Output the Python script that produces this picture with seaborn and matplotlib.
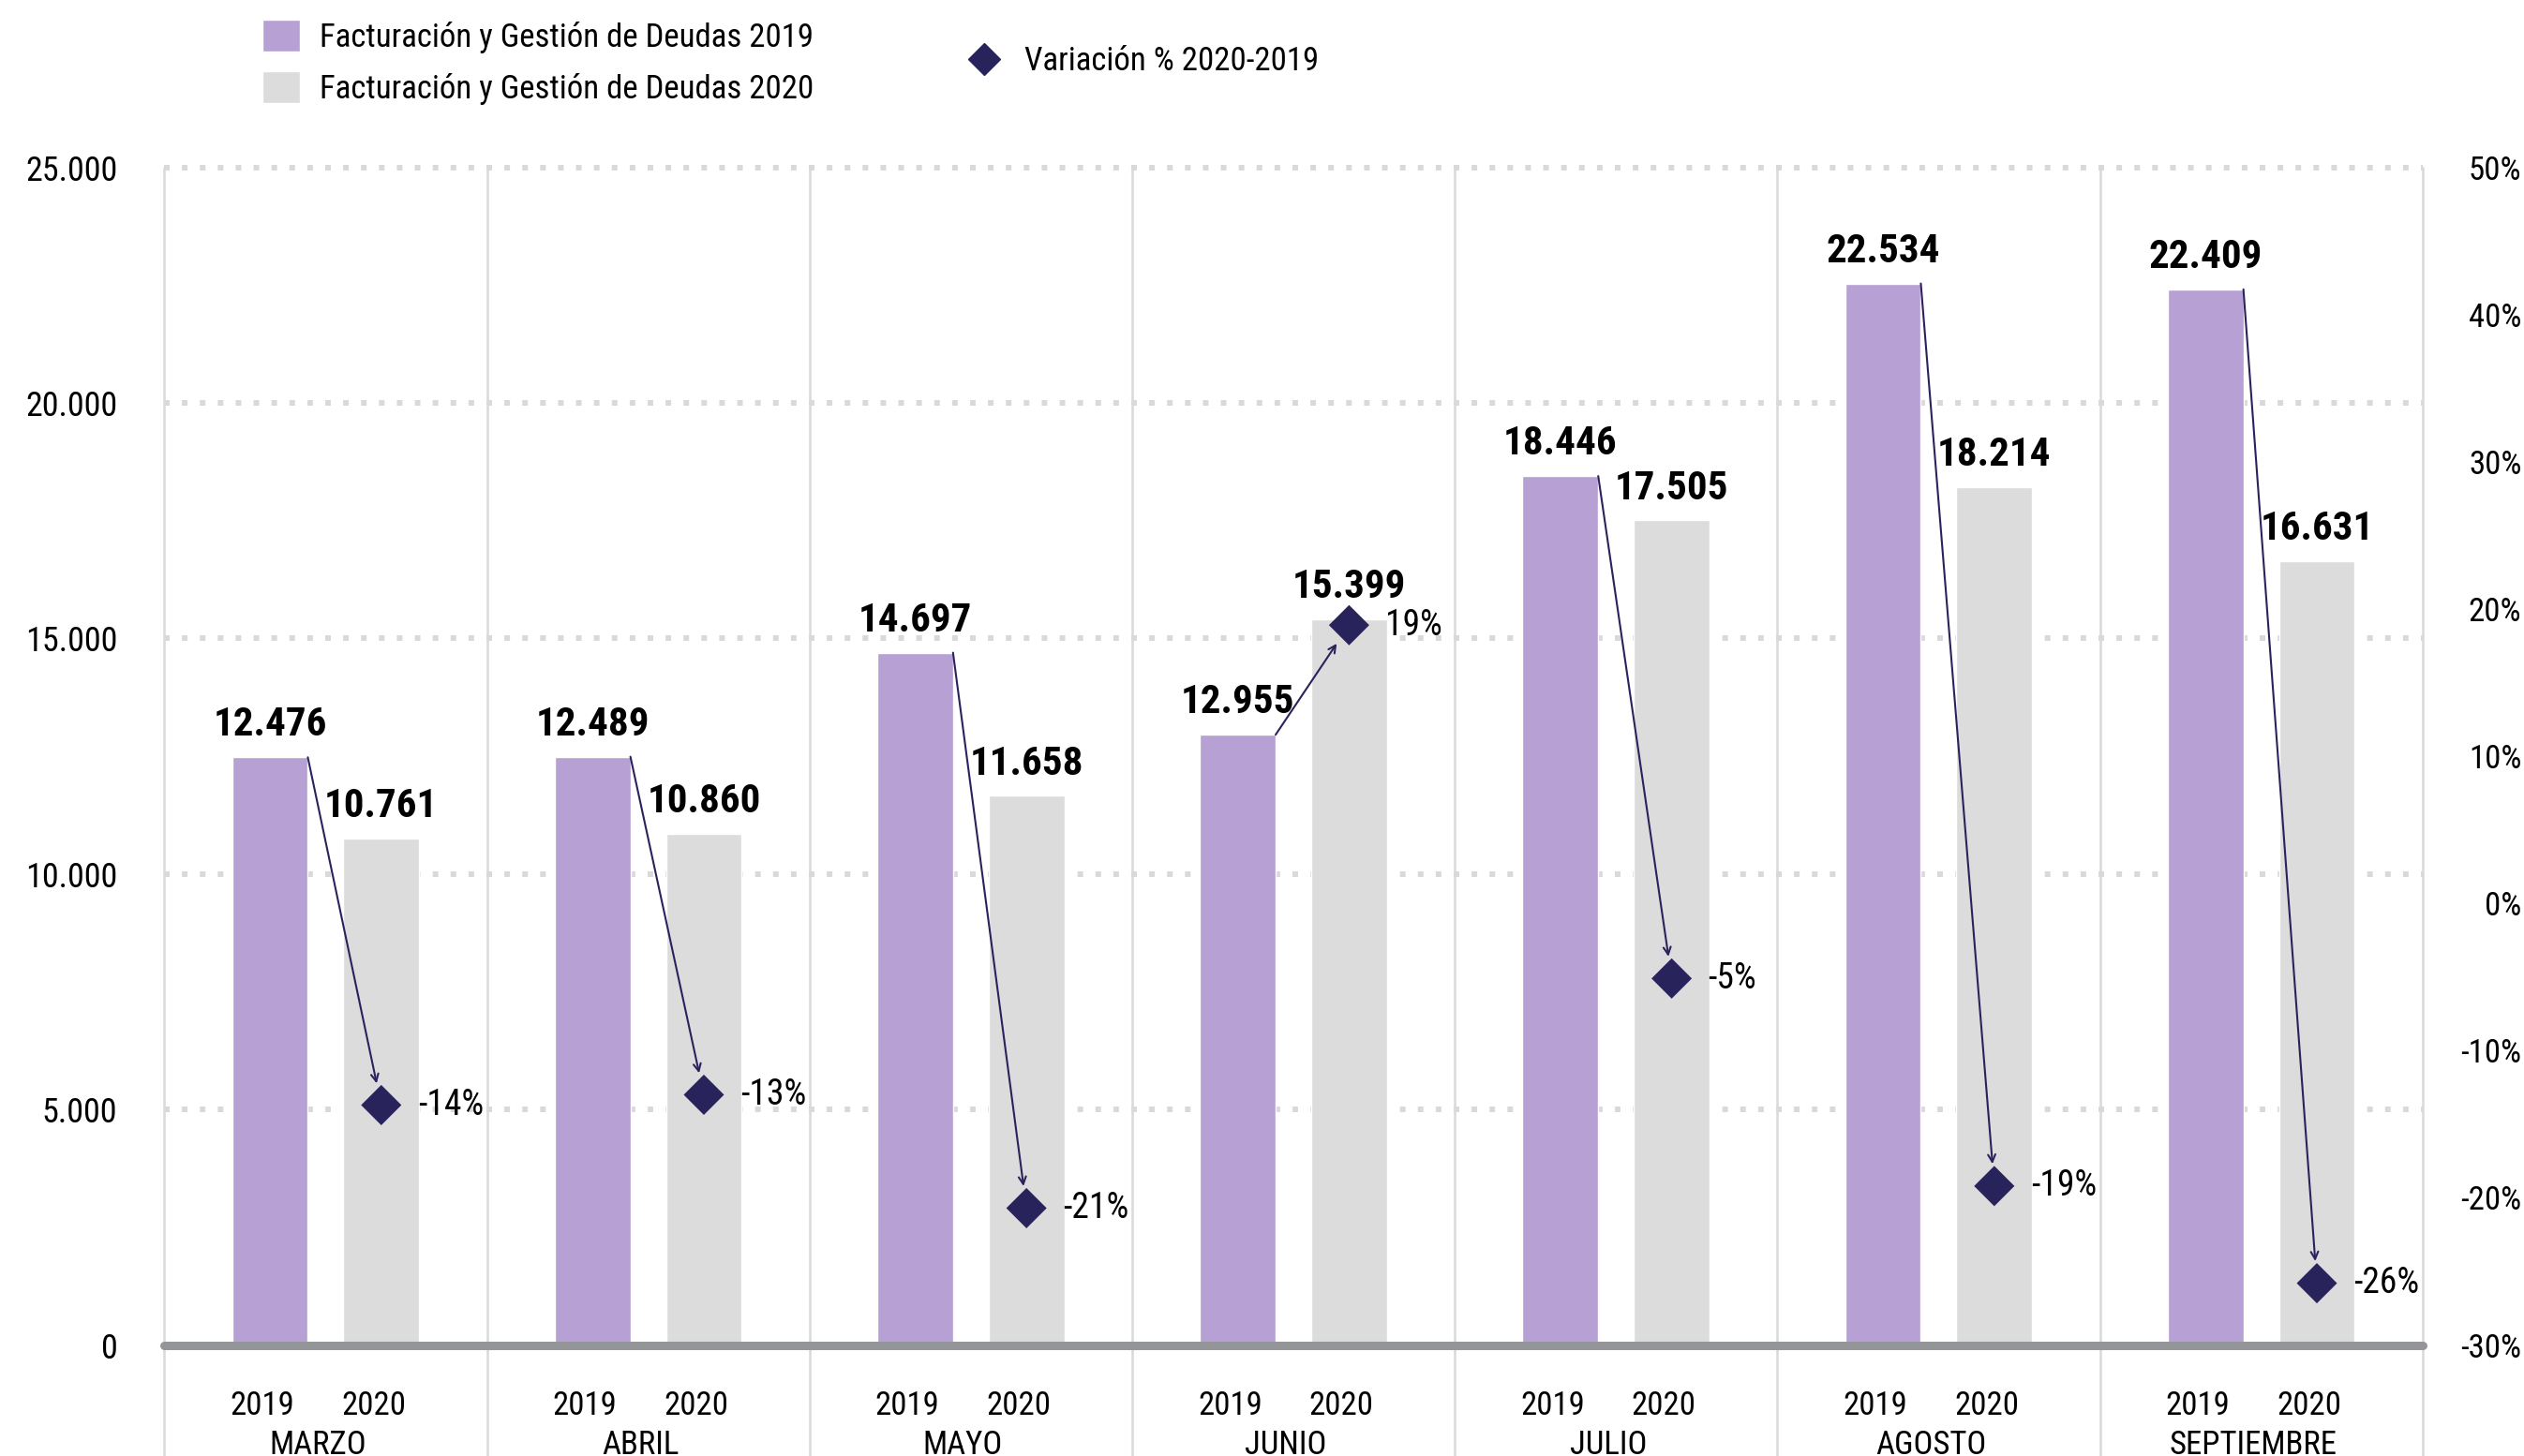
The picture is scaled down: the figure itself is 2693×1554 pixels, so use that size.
import numpy as np
import pandas as pd
import seaborn as sns
import matplotlib.pyplot as plt
import matplotlib.transforms as mtransforms
from matplotlib.lines import Line2D

# datos
meses = ["MARZO", "ABRIL", "MAYO", "JUNIO", "JULIO", "AGOSTO", "SEPTIEMBRE"]
fact_2019 = [12476, 12489, 14697, 12955, 18446, 22534, 22409]
fact_2020 = [10761, 10860, 11658, 15399, 17505, 18214, 16631]
variacion = [-13.7, -13.0, -20.7, 18.9, -5.1, -19.2, -25.8]
anios = ["2019", "2020"]
series = ["Facturación y Gestión de Deudas 2019", "Facturación y Gestión de Deudas 2020"]
serie_var = "Variación % 2020-2019"

purple = "#b7a0d4"
gray = "#dcdcdc"
navy = "#29235c"

sns.set_theme(style="white")
plt.rcParams["font.family"] = ["Roboto Condensed", "DejaVu Sans"]
plt.rcParams["text.color"] = "black"
plt.rcParams["xtick.color"] = "black"
plt.rcParams["ytick.color"] = "black"

df = pd.DataFrame({
    "mes": meses * 2,
    "serie": [series[0]] * len(meses) + [series[1]] * len(meses),
    "valor": fact_2019 + fact_2020,
})

fig = plt.figure(figsize=(26.93, 15.54), dpi=100)
ax = fig.add_axes([0.0651, 0.0762, 0.8947, 0.8089])

sns.barplot(data=df, x="mes", y="valor", hue="serie", palette=[purple, gray],
            width=0.69, gap=0.32, saturation=1, errorbar=None, legend=False,
            ax=ax, zorder=2)
ax.set_xlim(-0.5, len(meses) - 0.5)
ax.set_ylim(0, 25000)

# grid punteado + linea base
for y in range(5000, 25001, 5000):
    ax.axhline(y, color="#d9d9d9", lw=4.3, linestyle=(0, (1, 2.2)),
               dash_capstyle="butt", zorder=0, clip_on=False)
ax.axhline(0, color="#939598", lw=6.5, zorder=3, clip_on=False)
for k in range(len(meses) + 1):
    ax.axvline(k - 0.5, ymin=-0.094, ymax=1, color="#d9d9d9", lw=1.8,
               zorder=1, clip_on=False)

# etiquetas de valor
for c in ax.containers:
    ax.bar_label(c, labels=[f"{b.get_height():,.0f}".replace(",", ".") for b in c],
                 padding=10, fontsize=31, fontweight="bold")

x19 = [b.get_x() + b.get_width() / 2 for b in ax.containers[0]]
x20 = [b.get_x() + b.get_width() / 2 for b in ax.containers[1]]

# eje secundario con la variacion
ax2 = ax.twinx()
ax2.set_ylim(-30, 50)
sns.scatterplot(x=x20, y=variacion, ax=ax2, marker="D", s=480, color=navy,
                edgecolor="none", zorder=5)
for i, v in enumerate(variacion):
    b = ax.containers[0][i]
    ax2.annotate("", xy=(x20[i], v), xytext=(b.get_x() + b.get_width(), b.get_height()),
                 textcoords=ax.transData,
                 arrowprops=dict(arrowstyle="->", color=navy, lw=1.5,
                                 shrinkA=0, shrinkB=17, mutation_scale=14))
    ax2.annotate(f"{round(v):d}%", xy=(x20[i], v), xytext=(28, 0),
                 textcoords="offset points", va="center", ha="left", fontsize=27)

# ejes
ax.set_xticks(range(len(meses)))
ax.set_xticklabels(meses)
ax.set_xticks(x19 + x20, minor=True)
ax.set_xticklabels([anios[0]] * len(meses) + [anios[1]] * len(meses), minor=True)
ax.tick_params(axis="x", which="major", length=0, pad=65, labelsize=25)
ax.tick_params(axis="x", which="minor", length=0, pad=35, labelsize=25)
shift = mtransforms.ScaledTranslation(-6 / 72, 0, fig.dpi_scale_trans)
for lab in ax.get_xticklabels(which="both"):
    lab.set_transform(lab.get_transform() + shift)

yt = list(range(0, 25001, 5000))
ax.set_yticks(yt)
ax.set_yticklabels([f"{t:,}".replace(",", ".") for t in yt])
ax.tick_params(axis="y", length=0, pad=36, labelsize=26)

pt = list(range(-30, 51, 10))
ax2.set_yticks(pt)
ax2.set_yticklabels([f"{t}%" for t in pt])
ax2.tick_params(axis="y", length=0, pad=76, labelsize=25)
for lab in ax2.get_yticklabels():
    lab.set_horizontalalignment("right")

for a in (ax, ax2):
    a.set_xlabel("")
    a.set_ylabel("")
    for s in a.spines.values():
        s.set_visible(False)

# leyendas
fig.legend(handles=[ax.containers[0], ax.containers[1]], labels=series,
           loc="upper left", bbox_to_anchor=(0.104, 0.9867), frameon=False,
           fontsize=25, borderpad=0, borderaxespad=0, handlelength=1.15,
           handleheight=1.15, labelspacing=0.55, handletextpad=0.6)
fig.legend(handles=[Line2D([], [], marker="D", color=navy, linestyle="none", markersize=17)],
           labels=[serie_var], loc="center left", bbox_to_anchor=(0.3825, 0.958),
           frameon=False, fontsize=25, borderpad=0, borderaxespad=0,
           handlelength=1.15, handletextpad=0.65)

fig.savefig("out.png", dpi=100)
